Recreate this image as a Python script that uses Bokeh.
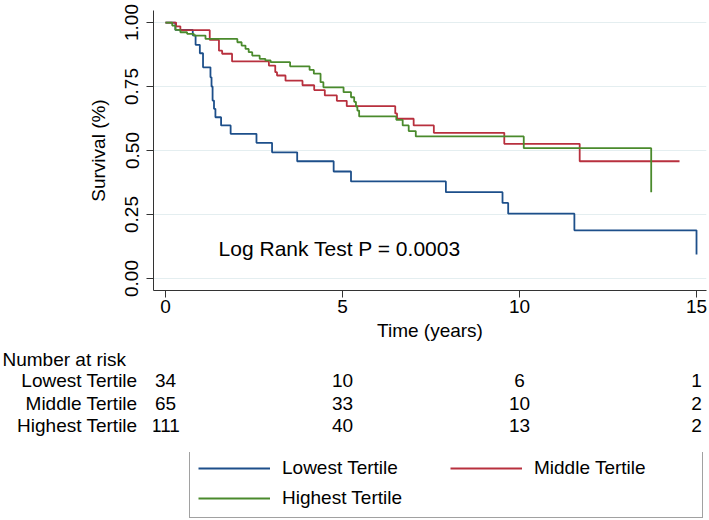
from bokeh.plotting import figure
from bokeh.models import (Range1d, FixedTicker, NumeralTickFormatter, Label, Legend, LegendItem,
                          ColumnDataSource, Title)
from bokeh.layouts import column
from bokeh.embed import file_html
from bokeh.resources import INLINE
from bokeh.core.properties import value

# ---------------- data ----------------
groups = ["Lowest Tertile", "Middle Tertile", "Highest Tertile"]
colors = ["#1d4f8a", "#b8303e", "#4a8a2c"]

low_t = [0, 0.28, 0.77, 0.85, 0.97, 1.06, 1.27, 1.30, 1.33, 1.37, 1.41, 1.57, 1.84, 2.57, 3.01, 3.72, 4.75, 5.24, 7.92, 9.52, 9.68, 11.55, 15.0]
low_s = [1.0, 0.971, 0.950, 0.913, 0.880, 0.825, 0.786, 0.750, 0.695, 0.663, 0.630, 0.598, 0.565, 0.530, 0.493, 0.458, 0.418, 0.379, 0.337, 0.295, 0.253, 0.188, 0.094]

mid_t = [0, 0.30, 0.42, 1.25, 1.51, 1.60, 1.88, 2.92, 3.10, 3.15, 3.39, 3.87, 4.20, 4.50, 4.84, 5.12, 6.49, 6.54, 7.01, 7.58, 9.57, 11.70, 14.52]
mid_s = [1.0, 0.985, 0.970, 0.932, 0.890, 0.878, 0.848, 0.832, 0.806, 0.793, 0.773, 0.755, 0.736, 0.715, 0.694, 0.673, 0.645, 0.624, 0.598, 0.569, 0.526, 0.458, 0.458]

high_t = [0, 0.19, 0.28, 0.42, 0.61, 0.80, 1.13, 2.03, 2.15, 2.26, 2.35, 2.45, 2.66, 2.82, 2.97, 3.52, 4.07, 4.19, 4.38, 4.46, 5.03, 5.24, 5.33, 5.38, 5.42, 5.47, 6.52, 6.70, 6.87, 7.07, 10.12, 13.72]
high_s = [1.0, 0.988, 0.971, 0.962, 0.956, 0.949, 0.936, 0.923, 0.910, 0.897, 0.884, 0.871, 0.858, 0.852, 0.845, 0.829, 0.815, 0.800, 0.767, 0.747, 0.728, 0.708, 0.690, 0.672, 0.656, 0.633, 0.620, 0.598, 0.576, 0.555, 0.509, 0.337]

x_ticks = [0, 5, 10, 15]
y_ticks = [0, 0.25, 0.5, 0.75, 1.0]

risk_title = "Number at risk"
risk_low = [34, 10, 6, 1]
risk_mid = [65, 33, 10, 2]
risk_high = [111, 40, 13, 2]

pvalue_text = "Log Rank Test P = 0.0003"

# ---------------- layout constants ----------------
FONT = "Liberation Sans"
FS = "19px"
LW = 1.8
W = 709
H1, H3 = 346, 68
H2 = 520 - H1 - H3
FL, FR, FT = 153, 3, 10
FB = H1 - 290
X0, X1 = -0.339, 15.282

xr = Range1d(X0, X1)
p = figure(width=W, height=H1, output_backend="svg", toolbar_location=None,
           x_range=xr, y_range=Range1d(-0.047, 1.047),
           min_border_left=FL, min_border_right=FR, min_border_top=FT, min_border_bottom=FB)
p.outline_line_color = None
p.xgrid.visible = False
p.ygrid.grid_line_color = "#e4eef0"
p.ygrid.grid_line_width = 1.2
p.ygrid.ticker = FixedTicker(ticks=y_ticks)

for ax in (p.xaxis[0], p.yaxis[0]):
    ax.axis_line_color = "#333333"
    ax.major_tick_line_color = "#333333"
    ax.minor_tick_line_color = None
    ax.major_tick_out = 7
    ax.major_tick_in = 0
    ax.major_label_text_font = FONT
    ax.major_label_text_font_size = FS
    ax.major_label_text_color = "black"
    ax.axis_label_text_font = FONT
    ax.axis_label_text_font_size = FS
    ax.axis_label_text_font_style = "normal"
    ax.axis_label_text_color = "black"

p.xaxis.ticker = FixedTicker(ticks=x_ticks)
p.xaxis.axis_label = "Time (years)"
p.xaxis.major_label_standoff = 2
p.xaxis.axis_label_standoff = 4

p.yaxis.ticker = FixedTicker(ticks=y_ticks)
p.yaxis.formatter = NumeralTickFormatter(format="0.00")
p.yaxis.major_label_orientation = "vertical"
p.yaxis.axis_label = "Survival (%)"
p.yaxis.major_label_standoff = 8
p.yaxis.axis_label_standoff = 14

series = [(low_t, low_s), (mid_t, mid_s), (high_t, high_s)]
for (tt, ss), c in zip(series, colors):
    p.step(x=tt, y=ss, mode="after", line_color=c, line_width=LW)

p.add_layout(Label(x=1.5, y=0.117, text=pvalue_text, text_font=FONT,
                   text_font_size="21px", text_baseline="middle", text_color="black"))

# ---------------- number-at-risk table ----------------
T2 = 22                 # expected height of the title panel
row_y = [33, 56, 79]    # row centres, px from top of this figure
p2 = figure(width=W, height=H2, output_backend="svg", toolbar_location=None,
            x_range=xr, y_range=Range1d(H2, T2),
            x_axis_location=None, y_axis_location="left",
            min_border_left=FL, min_border_right=FR, min_border_top=0, min_border_bottom=0)
p2.outline_line_color = None
p2.grid.visible = False
ya = p2.yaxis[0]
ya.ticker = FixedTicker(ticks=row_y)
ya.major_label_overrides = {y: g for y, g in zip(row_y, groups)}
ya.axis_line_color = None
ya.major_tick_line_color = None
ya.minor_tick_line_color = None
ya.major_tick_out = 0
ya.major_label_standoff = 16
ya.major_label_text_font = FONT
ya.major_label_text_font_size = FS
ya.major_label_text_color = "black"

p2.title = Title(text=risk_title, align="left", offset=-151, standoff=0,
                 text_font=FONT, text_font_size=FS, text_font_style="normal",
                 text_color="black")

for yy, vals in zip(row_y, [risk_low, risk_mid, risk_high]):
    src = ColumnDataSource(dict(x=x_ticks, y=[yy] * len(x_ticks), t=[str(v) for v in vals]))
    p2.text(x="x", y="y", text="t", source=src, text_font=value(FONT), text_font_size=FS,
            text_baseline="middle", text_align="center", text_color="black")

# ---------------- legend ----------------
p3 = figure(width=W, height=H3, output_backend="svg", toolbar_location=None,
            x_range=xr, y_range=Range1d(-0.047, 1.047),
            x_axis_location=None, y_axis_location=None,
            min_border_left=FL, min_border_right=FR, min_border_top=0, min_border_bottom=0)
p3.outline_line_color = None
p3.grid.visible = False

leg_r = []
for (tt, ss), c in zip(series, colors):
    r = p3.step(x=tt, y=ss, mode="after", line_color=c, line_width=LW)
    r.visible = False
    leg_r.append(r)

order = [0, 2, 1]   # column-major fill -> row 1: Lowest, Middle; row 2: Highest
items = [LegendItem(label=groups[k], renderers=[leg_r[k]]) for k in order]
legend = Legend(items=items, ncols=2, location=(36, 2),
                label_text_font=FONT, label_text_font_size=FS, label_text_color="black",
                glyph_width=72, glyph_height=20, label_height=20, label_width=160,
                label_standoff=12, spacing=8, padding=8, margin=0,
                border_line_color="#444444", border_line_width=1,
                background_fill_color="white", background_fill_alpha=1.0,
                inactive_fill_alpha=0.0)
p3.add_layout(legend)

layout = column(p, p2, p3, spacing=0)
open("out.html", "w").write(file_html(layout, INLINE))
